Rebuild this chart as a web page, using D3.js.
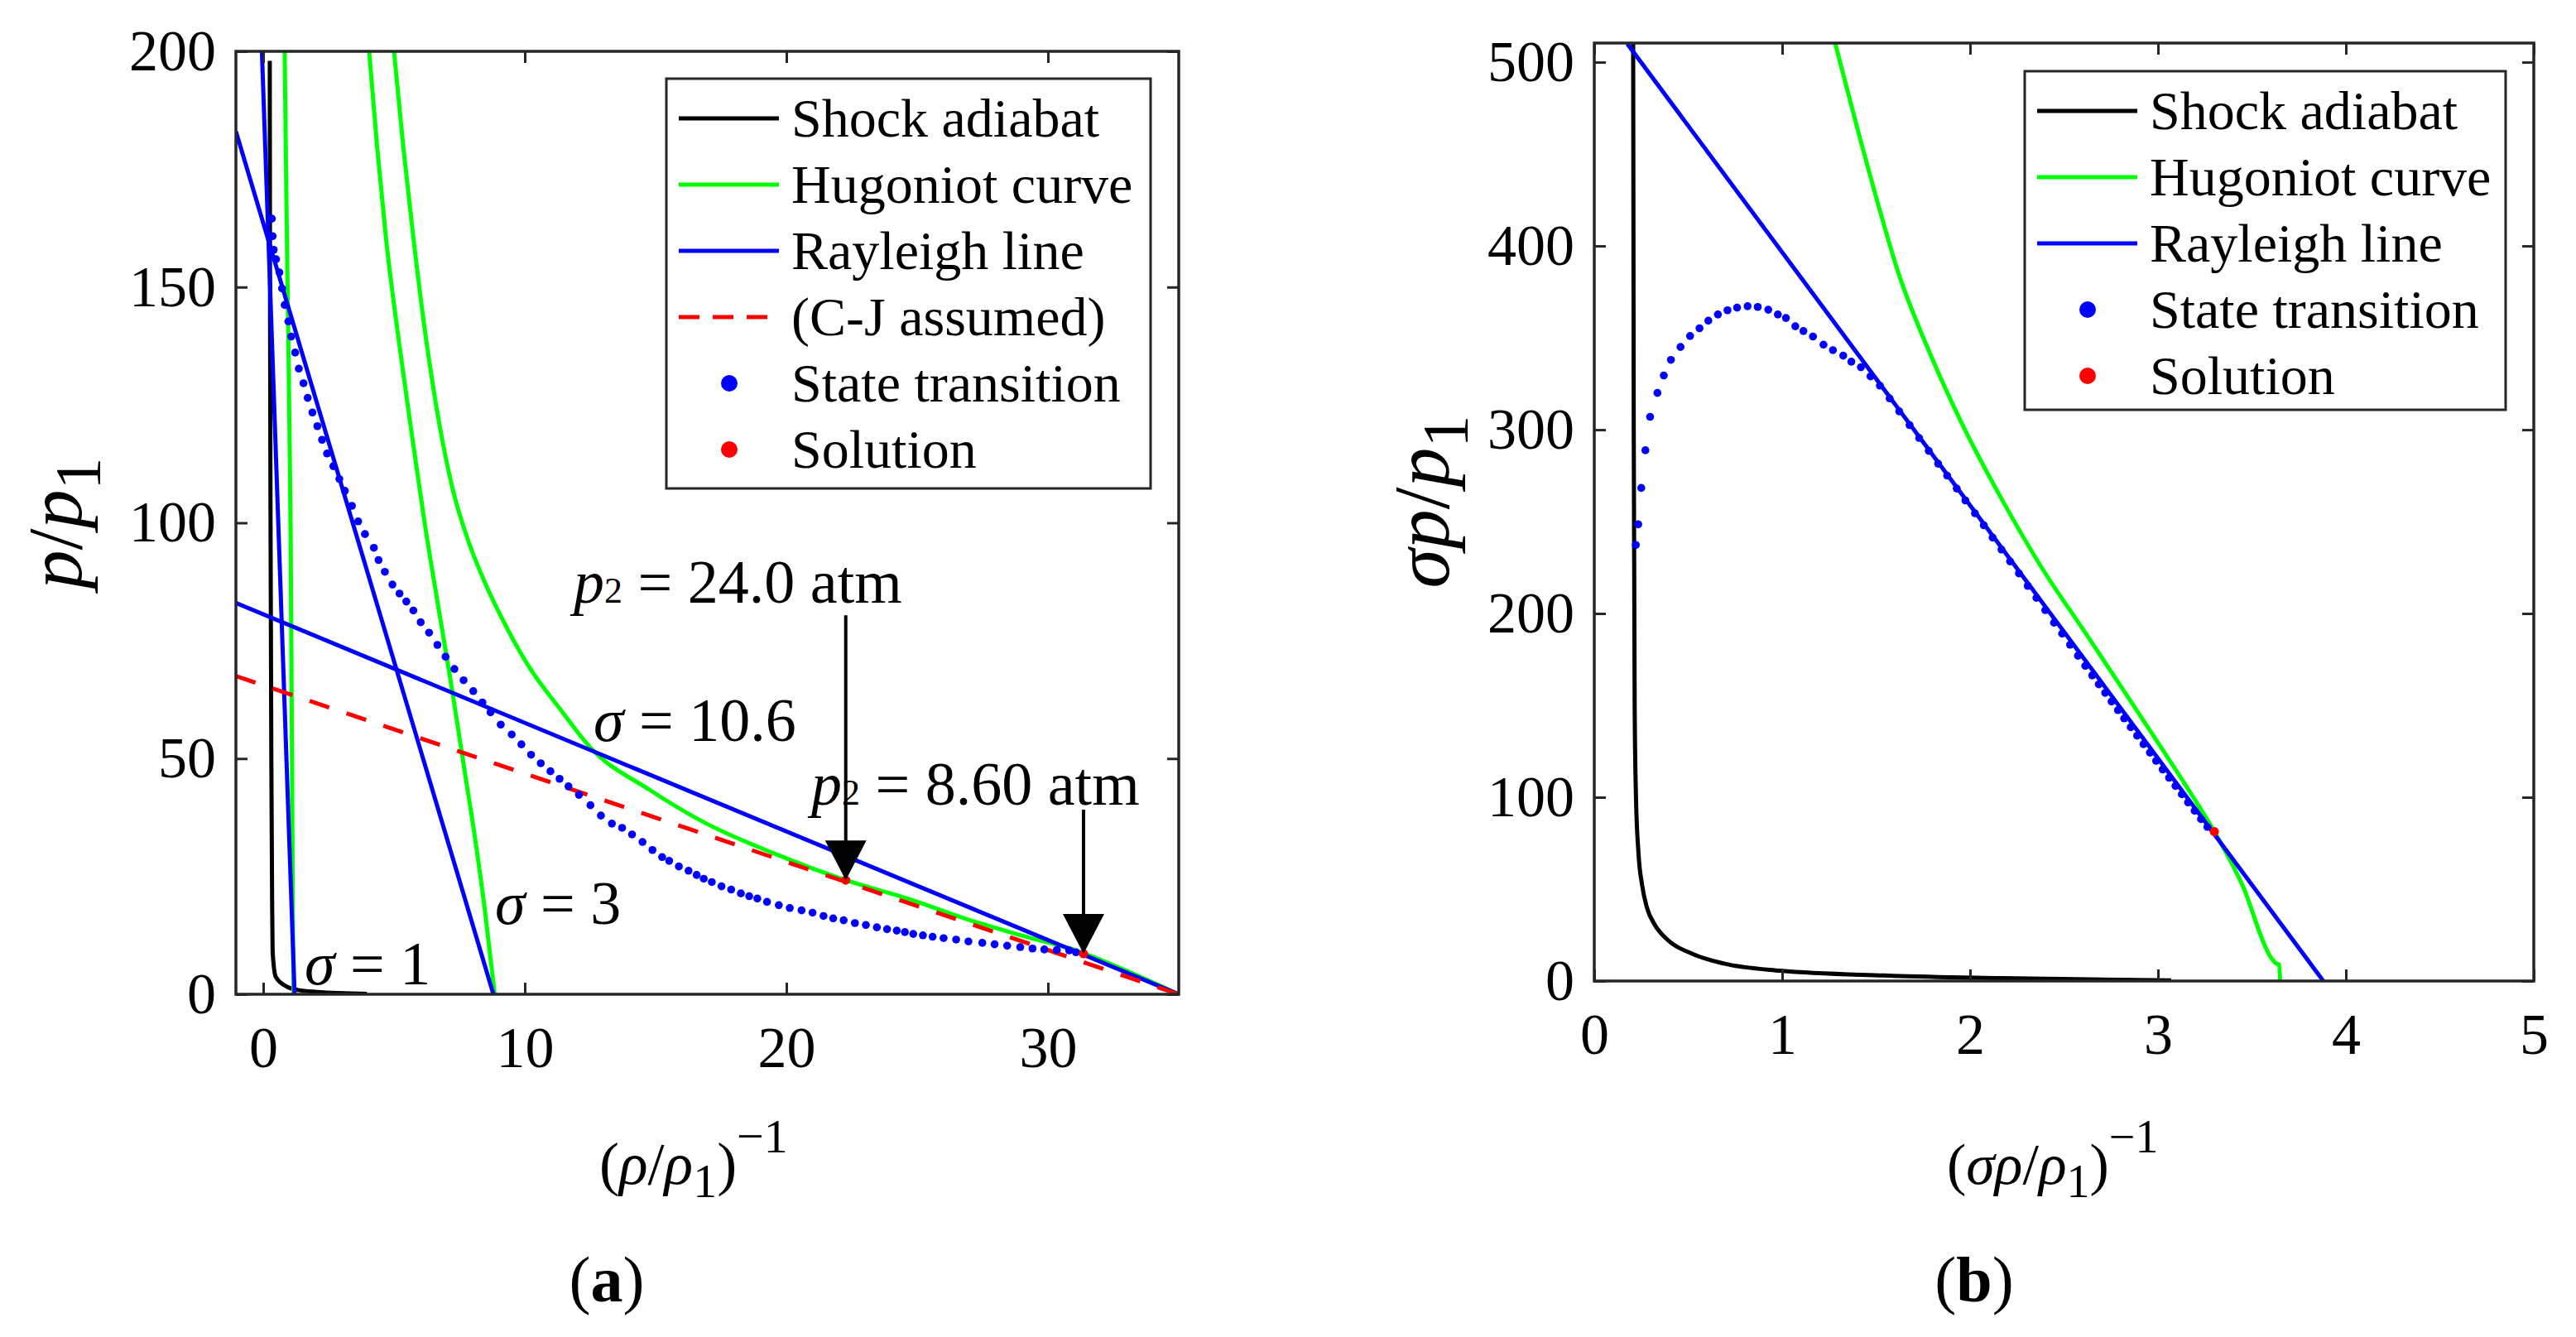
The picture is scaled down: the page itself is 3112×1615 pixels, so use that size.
<!DOCTYPE html>
<html>
<head>
<meta charset="utf-8">
<script src="https://cdn.jsdelivr.net/npm/d3@7"></script>
<style>
  body { margin: 0; background: #fff; }
  svg { display: block; }
  text { font-family: "Liberation Serif", "Times New Roman", serif; fill: #000; }
</style>
</head>
<body>
<div id="chart"></div>
<script>
// ---- panel (a) data: x = (rho/rho1)^-1, y = p/p1 ----
const aShock = [[0.25,198],[0.26,150],[0.28,100],[0.31,50],[0.34,20],[0.36,9],[0.48,3.7],[0.91,1.6],[1.33,0.9],[2.06,0.5],[3.96,0.1]];
const aHugoniot1 = [[0.82,200],[0.89,167],[0.98,130],[1.05,97],[1.1,50],[1.14,10],[1.16,0]];
const aHugoniot3 = [[4.05,200],[4.35,180],[4.7,160],[5.15,140],[5.65,120],[6.17,100],[6.7,82],[7.22,64.6],[7.71,47],[8.1,33],[8.47,18],[8.85,0]];
const aHugoniot10 = [[5.0,200],[5.35,180],[5.75,160],[6.2,140],[6.7,122],[7.25,107],[7.85,96],[8.5,87],[9.24,78.5],[10.19,69.2],[11.35,60.5],[12.51,52.3],[14.73,43.5],[16.84,36.5],[19.47,30.0],[22.27,24.2],[24.75,20.1],[26.86,16.0],[28.97,12.5],[31.08,9.3],[33.0,5.0],[35.0,0]];
const aRayleigh1 = [[-0.05,200],[1.2,0]];
const aRayleigh3 = [[-1.044,183],[8.8,0]];
const aRayleigh10 = [[-1.044,83],[35.0,0]];
const aCJ = [[-1.044,67.5],[35.0,0]];
const aTransition = [[0.33,164.5],[0.36,160.8],[0.40,157.9],[0.49,155.9],[0.62,153.1],[0.72,149.7],[0.82,146.2],[0.96,142.7],[1.07,139.5],[1.22,136.1],[1.36,132.7],[1.54,129.6],[1.70,126.5],[1.88,123.4],[2.07,120.5],[2.25,117.6],[2.44,114.7],[2.68,112.0],[2.91,109.3],[3.12,106.8],[3.39,103.6],[3.63,100.3],[3.89,97.6],[4.23,94.7],[4.41,92.1],[4.65,89.6],[4.94,86.9],[5.21,85.0],[5.47,83.3],[5.74,81.4],[6.02,78.9],[6.34,76.7],[6.66,74.1],[6.97,71.6],[7.31,69.0],[7.66,66.6],[8.03,64.3],[8.38,61.9],[8.69,59.8],[9.08,57.2],[9.50,55.1],[9.87,53.0],[10.24,50.8],[10.61,49.0],[10.98,47.3],[11.33,45.7],[11.67,44.1],[12.07,42.3],[12.51,40.1],[12.91,37.9],[13.33,36.2],[13.72,35.3],[14.1,33.9],[14.5,32.3],[14.88,30.6],[15.25,29.1],[15.52,28.3],[15.89,27.1],[16.26,26.2],[16.57,25.3],[16.84,24.5],[17.15,23.8],[17.52,22.9],[17.89,22.2],[18.26,21.4],[18.58,20.8],[18.89,20.3],[19.26,19.6],[19.71,18.9],[20.13,18.3],[20.58,17.8],[21.00,17.3],[21.42,16.6],[21.79,16.1],[22.19,15.7],[22.62,15.1],[23.04,14.7],[23.46,14.2],[23.85,13.8],[24.22,13.5],[24.53,13.2],[24.85,12.8],[25.22,12.5],[25.59,12.2],[26.01,11.9],[26.49,11.6],[26.96,11.2],[27.49,10.9],[27.96,10.6],[28.44,10.3],[28.94,10.0],[29.41,9.7],[29.86,9.5],[30.34,9.4],[30.81,9.3],[31.07,8.9]];
const aSolution = [[22.27,24.2],[31.36,8.6]];
const aXTicks = [0,10,20,30];
const aYTicks = [0,50,100,150,200];

// ---- panel (b) data: x = (sigma rho/rho1)^-1, y = sigma p/p1 ----
const bShock = [[0.207,510],[0.21,300],[0.215,150],[0.222,100],[0.235,70],[0.255,52],[0.28,40],[0.32,31],[0.39,22.4],[0.52,14.9],[0.69,9.5],[0.99,5.6],[1.54,3.0],[2.17,1.6],[3.07,0.3]];
const bHugoniot = [[1.283,510],[1.453,444],[1.623,384],[1.793,340],[1.963,302],[2.175,261],[2.387,224],[2.61,190],[2.805,160],[2.985,132],[3.16,104.5],[3.30,81.3],[3.45,52],[3.60,13],[3.63,9.5],[3.645,9],[3.65,0]];
const bRayleigh = [[0.176,510],[3.88,0]];
const bTransition = [[0.221,237.3],[0.234,248.5],[0.25,268.3],[0.272,288.8],[0.297,307],[0.336,320],[0.37,329.5],[0.408,338],[0.459,345],[0.51,351],[0.56,355.2],[0.607,359.3],[0.658,362.7],[0.709,365],[0.76,366.4],[0.816,367.2],[0.87,366.8],[0.926,365.3],[0.977,362.7],[1.02,360.8],[1.07,356.3],[1.113,353.7],[1.164,350.7],[1.22,346.3],[1.27,343.3],[1.325,340.3],[1.368,337],[1.419,334],[1.47,329],[1.52,324],[1.572,317],[1.623,310],[1.678,302.5],[1.729,295.5],[1.78,288.5],[1.83,281.5],[1.878,275],[1.929,268],[1.975,261.5],[2.026,254.5],[2.073,248],[2.12,241.3],[2.167,234.8],[2.213,228.3],[2.26,221.8],[2.307,215],[2.353,208.5],[2.40,201.8],[2.447,195],[2.49,189],[2.532,183],[2.574,177],[2.613,171.5],[2.65,166.3],[2.685,161.4],[2.719,156.8],[2.753,152.1],[2.787,147.4],[2.82,142.9],[2.855,138.1],[2.889,133.5],[2.923,128.9],[2.957,124.3],[2.99,119.8],[3.025,115.1],[3.059,110.6],[3.093,106.1],[3.127,101.6],[3.16,97.2],[3.195,92.6],[3.229,88.1],[3.263,83.8]];
const bSolution = [[3.30,81.3]];
const bXTicks = [0,1,2,3,4,5];
const bYTicks = [0,100,200,300,400,500];

const legendA = ["Shock adiabat","Hugoniot curve","Rayleigh line","(C-J assumed)","State transition","Solution"];
const legendB = ["Shock adiabat","Hugoniot curve","Rayleigh line","State transition","Solution"];

const W = 3112, H = 1615;
const AX = "#262626";
const FONT = "'Liberation Serif', 'Times New Roman', serif";
const BLUE = "#0000ff", GREEN = "#00ff00", RED = "#ff0000";

const svg = d3.select("#chart").append("svg")
  .attr("width", W).attr("height", H)
  .attr("viewBox", [0, 0, W, H])
  .attr("font-family", FONT);
svg.append("rect").attr("width", W).attr("height", H).attr("fill", "#fff");

function panel(id, xDomain, xRange, yDomain, yRange, xTicks, yTicks) {
  const x = d3.scaleLinear().domain(xDomain).range(xRange);
  const y = d3.scaleLinear().domain(yDomain).range(yRange);
  const g = svg.append("g");
  svg.append("clipPath").attr("id", id)
    .append("rect")
    .attr("x", xRange[0]).attr("y", yRange[1])
    .attr("width", xRange[1] - xRange[0]).attr("height", yRange[0] - yRange[1]);
  const plot = g.append("g").attr("clip-path", `url(#${id})`);

  const styleAxis = s => {
    s.select(".domain").remove();
    s.attr("font-family", FONT).attr("font-size", 70);
    s.selectAll(".tick line").attr("stroke", AX).attr("stroke-width", 3);
    s.selectAll("text").attr("font-family", FONT).attr("font-size", 70).attr("fill", AX);
  };
  const fmt = d3.format("d");
  g.append("g").attr("transform", `translate(0,${yRange[0]})`)
    .call(d3.axisBottom(x).tickValues(xTicks).tickFormat(fmt).tickSize(-14).tickPadding(38).tickSizeOuter(0))
    .call(styleAxis);
  g.append("g").attr("transform", `translate(0,${yRange[1]})`)
    .call(d3.axisTop(x).tickValues(xTicks).tickSize(-14).tickFormat("").tickSizeOuter(0))
    .call(styleAxis);
  g.append("g").attr("transform", `translate(${xRange[0]},0)`)
    .call(d3.axisLeft(y).tickValues(yTicks).tickFormat(fmt).tickSize(-14).tickPadding(24).tickSizeOuter(0))
    .call(styleAxis);
  g.append("g").attr("transform", `translate(${xRange[1]},0)`)
    .call(d3.axisRight(y).tickValues(yTicks).tickSize(-14).tickFormat("").tickSizeOuter(0))
    .call(styleAxis);
  return { g, plot, x, y, xRange, yRange };
}

function drawLine(p, data, color, opts = {}) {
  const line = d3.line()
    .x(d => p.x(d[0])).y(d => p.y(d[1]))
    .curve(opts.curve || d3.curveLinear);
  p.plot.append("path").datum(data)
    .attr("d", line)
    .attr("fill", "none")
    .attr("stroke", color)
    .attr("stroke-width", opts.width || 5)
    .attr("stroke-dasharray", opts.dash || null)
    .attr("stroke-linejoin", "round");
}

function drawDots(p, data, color, r) {
  p.plot.append("g").selectAll("circle")
    .data(data).join("circle")
    .attr("cx", d => p.x(d[0])).attr("cy", d => p.y(d[1]))
    .attr("r", r).attr("fill", color);
}

function drawBox(p) {
  p.g.append("rect")
    .attr("x", p.xRange[0]).attr("y", p.yRange[1])
    .attr("width", p.xRange[1] - p.xRange[0]).attr("height", p.yRange[0] - p.yRange[1])
    .attr("fill", "none").attr("stroke", AX).attr("stroke-width", 3.5);
}

function legend(p, labels, box, kinds) {
  const lg = p.g.append("g");
  lg.append("rect")
    .attr("x", box.x).attr("y", box.y).attr("width", box.w).attr("height", box.h)
    .attr("fill", "#fff").attr("stroke", AX).attr("stroke-width", 3);
  labels.forEach((label, i) => {
    const cy = box.y + 48 + i * 80;
    const k = kinds[i];
    if (k.type === "line") {
      lg.append("line")
        .attr("x1", box.x + 15).attr("x2", box.x + 136)
        .attr("y1", cy).attr("y2", cy)
        .attr("stroke", k.color).attr("stroke-width", 5)
        .attr("stroke-dasharray", k.dash || null);
    } else {
      lg.append("circle").attr("cx", box.x + 76).attr("cy", cy).attr("r", 10).attr("fill", k.color);
    }
    lg.append("text")
      .attr("x", box.x + 151).attr("y", cy + 22)
      .attr("font-size", 66)
      .text(label);
  });
}

const curve = d3.curveMonotoneX;

// ================= panel (a) =================
const pa = panel("clipA", [-1.044, 35.0], [285, 1424], [0, 200], [1201, 62], aXTicks, aYTicks);
drawLine(pa, aShock, "#000", { curve });
drawLine(pa, aHugoniot1, GREEN, { curve });
drawLine(pa, aHugoniot3, GREEN, { curve });
drawLine(pa, aHugoniot10, GREEN, { curve });
drawLine(pa, aRayleigh1, BLUE);
drawLine(pa, aRayleigh3, BLUE);
drawLine(pa, aRayleigh10, BLUE);
drawLine(pa, aCJ, RED, { dash: "25,22" });
drawDots(pa, aTransition, BLUE, 4.8);
drawDots(pa, aSolution, RED, 5.5);
drawBox(pa);

// annotations (a)
function sigmaLabel(p, x, y, value) {
  const t = p.g.append("text").attr("x", p.x(x)).attr("y", p.y(y)).attr("font-size", 74);
  t.append("tspan").attr("font-style", "italic").text("σ");
  t.append("tspan").text(" = " + value);
}
function pressureLabel(p, x, y, value) {
  const t = p.g.append("text").attr("x", p.x(x)).attr("y", p.y(y)).attr("font-size", 74);
  t.append("tspan").attr("font-style", "italic").text("p");
  t.append("tspan").attr("font-size", 44).text("2");
  t.append("tspan").text(" = " + value);
}
function arrow(p, pt, len) {
  const tx = p.x(pt[0]), ty = p.y(pt[1]);
  p.g.append("line")
    .attr("x1", tx).attr("x2", tx).attr("y1", ty - len).attr("y2", ty - 46)
    .attr("stroke", "#000").attr("stroke-width", 4);
  p.g.append("path")
    .attr("d", `M${tx},${ty} L${tx - 25},${ty - 48} L${tx + 25},${ty - 48} Z`)
    .attr("fill", "#000");
}
sigmaLabel(pa, 1.58, 2.1, "1");
sigmaLabel(pa, 8.86, 14.9, "3");
sigmaLabel(pa, 12.63, 53.7, "10.6");
pressureLabel(pa, 11.87, 83.1, "24.0 atm");
pressureLabel(pa, 20.95, 40.2, "8.60 atm");
arrow(pa, aSolution[0], 320);
arrow(pa, aSolution[1], 174);

legend(pa, legendA, { x: 805, y: 95, w: 585, h: 495 }, [
  { type: "line", color: "#000" },
  { type: "line", color: GREEN },
  { type: "line", color: BLUE },
  { type: "line", color: RED, dash: "25,16" },
  { type: "dot", color: BLUE },
  { type: "dot", color: RED }
]);

// axis labels (a)
{
  const yl = svg.append("text")
    .attr("transform", "translate(98,632) rotate(-90)")
    .attr("text-anchor", "middle").attr("font-size", 94);
  yl.append("tspan").attr("font-style", "italic").text("p");
  yl.append("tspan").text("/");
  yl.append("tspan").attr("font-style", "italic").text("p");
  yl.append("tspan").attr("font-size", 78).attr("dy", 22).text("1");

  const xl = svg.append("text").attr("x", 724).attr("y", 1430).attr("font-size", 72);
  xl.append("tspan").text("(");
  xl.append("tspan").attr("font-style", "italic").text("ρ");
  xl.append("tspan").text("/");
  xl.append("tspan").attr("font-style", "italic").text("ρ");
  xl.append("tspan").attr("font-size", 58).attr("dy", 16).text("1");
  xl.append("tspan").attr("dy", -16).text(")");
  xl.append("tspan").attr("font-size", 58).attr("dy", -38).text("−1");

  const cap = svg.append("text").attr("x", 733).attr("y", 1572)
    .attr("text-anchor", "middle").attr("font-size", 78);
  cap.append("tspan").text("(");
  cap.append("tspan").attr("font-weight", "bold").text("a");
  cap.append("tspan").text(")");
}

// ================= panel (b) =================
const pb = panel("clipB", [0, 5], [1926, 3061], [0, 510.4], [1185, 52], bXTicks, bYTicks);
drawLine(pb, bShock, "#000", { curve });
drawLine(pb, bHugoniot, GREEN, { curve });
drawLine(pb, bRayleigh, BLUE);
drawDots(pb, bTransition, BLUE, 4.8);
drawDots(pb, bSolution, RED, 5.5);
drawBox(pb);

legend(pb, legendB, { x: 2446, y: 86, w: 581, h: 409 }, [
  { type: "line", color: "#000" },
  { type: "line", color: GREEN },
  { type: "line", color: BLUE },
  { type: "dot", color: BLUE },
  { type: "dot", color: RED }
]);

{
  const yl = svg.append("text")
    .attr("transform", "translate(1750,606) rotate(-90)")
    .attr("text-anchor", "middle").attr("font-size", 96);
  yl.append("tspan").attr("font-style", "italic").text("σp");
  yl.append("tspan").text("/");
  yl.append("tspan").attr("font-style", "italic").text("p");
  yl.append("tspan").attr("font-size", 78).attr("dy", 22).text("1");

  const xl = svg.append("text").attr("x", 2352).attr("y", 1430).attr("font-size", 70);
  xl.append("tspan").text("(");
  xl.append("tspan").attr("font-style", "italic").text("σρ");
  xl.append("tspan").text("/");
  xl.append("tspan").attr("font-style", "italic").text("ρ");
  xl.append("tspan").attr("font-size", 56).attr("dy", 16).text("1");
  xl.append("tspan").attr("dy", -16).text(")");
  xl.append("tspan").attr("font-size", 56).attr("dy", -38).text("−1");

  const cap = svg.append("text").attr("x", 2385).attr("y", 1572)
    .attr("text-anchor", "middle").attr("font-size", 78);
  cap.append("tspan").text("(");
  cap.append("tspan").attr("font-weight", "bold").text("b");
  cap.append("tspan").text(")");
}
</script>
</body>
</html>
